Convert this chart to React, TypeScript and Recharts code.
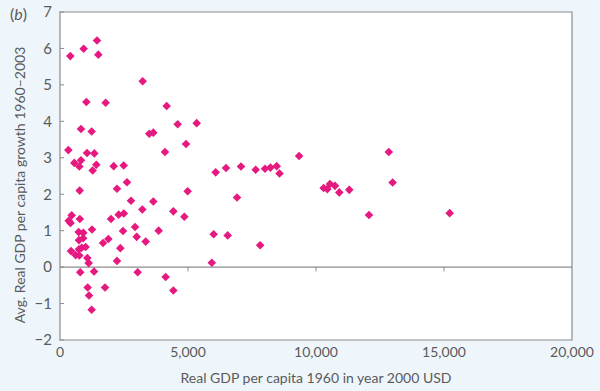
import {
  ScatterChart, Scatter, XAxis, YAxis, ReferenceArea, ReferenceLine, Label,
} from 'recharts'

// Real GDP per capita 1960 (year 2000 USD)
const GDP_1960 = [
  403, 925, 1445, 1497, 3229, 1029, 1784, 820, 1237, 3488,
  3644, 326, 1055, 1341, 560, 820, 755, 1419, 1276, 2097,
  2488, 768, 2226, 2617, 2773, 3644, 4167, 4597, 5339, 4101,
  4922, 4987, 4427, 4857, 3216, 3853, 3347, 2995, 2930, 2461,
  2356, 2226, 3034, 4127, 4427, 1992, 2291, 2494, 1680, 1888,
  456, 340, 410, 775, 730, 911, 1250, 740, 905, 430,
  612, 755, 740, 846, 1000, 1068, 1120, 790, 1330, 1081,
  1758, 1133, 1237, 6082, 6484, 7070, 7643, 8008, 8222, 8464,
  8575, 9340, 6914, 6003, 6550, 7818, 5930, 10300, 10441, 10546,
  10741, 10910, 11300, 12070, 12843, 12993, 15221,
]

// Avg. real GDP per capita growth 1960-2003 (%)
const GROWTH = [
  5.79, 5.99, 6.22, 5.83, 5.10, 4.53, 4.51, 3.79, 3.72, 3.66,
  3.69, 3.21, 3.13, 3.12, 2.86, 2.93, 2.76, 2.81, 2.65, 2.77,
  2.79, 2.10, 2.15, 2.33, 1.82, 1.80, 4.42, 3.92, 3.95, 3.16,
  3.38, 2.08, 1.53, 1.38, 1.58, 1.00, 0.70, 0.83, 1.10, 0.99,
  0.52, 0.17, -0.14, -0.27, -0.64, 1.32, 1.44, 1.47, 0.66, 0.77,
  1.42, 1.27, 1.21, 1.32, 0.96, 0.94, 1.03, 0.74, 0.79, 0.44,
  0.33, 0.32, 0.49, 0.53, 0.55, 0.25, 0.11, -0.14, -0.12, -0.56,
  -0.56, -0.78, -1.17, 2.60, 2.72, 2.76, 2.67, 2.70, 2.73, 2.77,
  2.57, 3.05, 1.91, 0.90, 0.87, 0.60, 0.12, 2.17, 2.14, 2.28,
  2.23, 2.05, 2.12, 1.43, 3.16, 2.32, 1.48,
]

const X_TICKS = [0, 5000, 10000, 15000, 20000]
const Y_TICKS = [-2, -1, 0, 1, 2, 3, 4, 5, 6, 7]
const ZERO_LINE_TICKS = [5000, 10000, 15000]

const data = GDP_1960.map((gdp, i) => ({ gdp, growth: GROWTH[i] }))

const TEXT = '#5a5a5a'
const FRAME = '#8c8c8c'
const PINK = '#e5197f'
const FONT = 'Lato, "Open Sans", sans-serif'

function Diamond(props: any) {
  const { cx, cy } = props
  const r = 4.3
  return (
    <polygon
      points={`${cx},${cy - r} ${cx + r},${cy} ${cx},${cy + r} ${cx - r},${cy}`}
      fill={PINK}
    />
  )
}

function YLabel(props: any) {
  const { viewBox } = props
  const x = viewBox.x + 19
  const y = viewBox.y + viewBox.height / 2 + 9
  return (
    <text
      x={x}
      y={y}
      transform={`rotate(-90, ${x}, ${y})`}
      textAnchor="middle"
      dominantBaseline="central"
      fill={TEXT}
      fontSize={14}
      fontFamily={FONT}
    >
      Avg. Real GDP per capita growth 1960–2003
    </text>
  )
}

const fmtX = (v: number) => v.toLocaleString('en-US')
const fmtY = (v: number) => (v < 0 ? `\u2212${Math.abs(v)}` : `${v}`)

export default function App() {
  return (
    <div
      style={{
        position: 'absolute', left: 0, top: 0, width: 600, height: 391,
        background: '#eef6fc', fontFamily: FONT,
      }}
    >
      <div
        style={{
          position: 'absolute', left: 10, top: 5, fontSize: 16, color: TEXT,
          fontFamily: FONT, lineHeight: '18px',
        }}
      >
        (<i>b</i>)
      </div>
      <ScatterChart
        width={600}
        height={391}
        margin={{ top: 12, right: 28, left: 0, bottom: 0 }}
      >
        <ReferenceArea
          x1={0} x2={20000} y1={-2} y2={7}
          fill="#ffffff" fillOpacity={1} stroke={FRAME} strokeWidth={1.2}
          ifOverflow="visible"
        />
        <XAxis
          type="number"
          dataKey="gdp"
          domain={[0, 20000]}
          ticks={X_TICKS}
          tickFormatter={fmtX}
          height={51}
          axisLine={false}
          tickLine={false}
          tickSize={0}
          tickMargin={7}
          tick={{ fill: TEXT, fontSize: 14, fontFamily: FONT }}
          interval={0}
        >
          <Label
            value="Real GDP per capita 1960 in year 2000 USD"
            position="insideBottom"
            offset={8}
            fill={TEXT}
            fontSize={14}
            fontFamily={FONT}
          />
        </XAxis>
        <YAxis
          type="number"
          dataKey="growth"
          domain={[-2, 7]}
          ticks={Y_TICKS}
          tickFormatter={fmtY}
          width={60}
          axisLine={false}
          tickLine={{ stroke: FRAME }}
          tickSize={-4}
          tickMargin={12}
          tick={{ fill: TEXT, fontSize: 15, fontFamily: FONT }}
          interval={0}
          label={<YLabel />}
        />
        <ReferenceLine y={0} stroke={FRAME} strokeWidth={1.2} />
        {ZERO_LINE_TICKS.map(t => (
          <ReferenceLine
            key={t}
            segment={[{ x: t, y: 0 }, { x: t, y: -0.12 }]}
            stroke={FRAME}
          />
        ))}
        <Scatter data={data} shape={<Diamond />} isAnimationActive={false} />
      </ScatterChart>
    </div>
  )
}
